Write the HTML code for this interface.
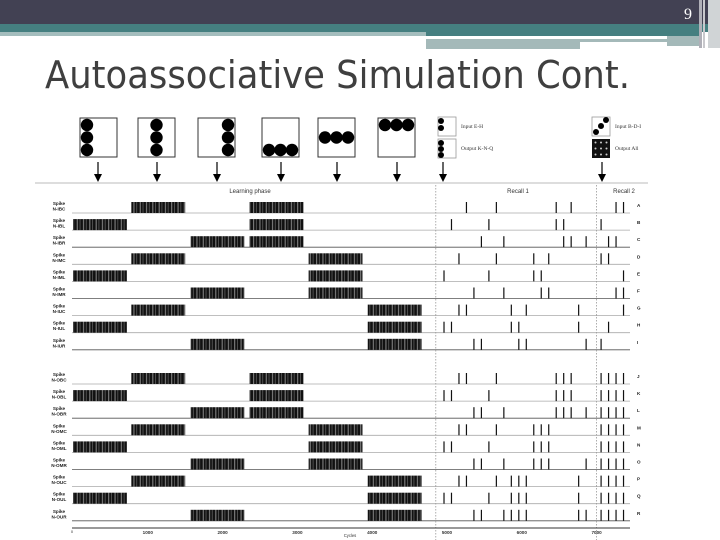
<!DOCTYPE html>
<html><head><meta charset="utf-8"><style>
html,body{margin:0;padding:0;background:#fff;width:720px;height:540px;overflow:hidden}
svg{display:block}
</style></head><body>
<svg id="chart" width="720" height="540" viewBox="0 0 720 540" xmlns="http://www.w3.org/2000/svg" font-family="Liberation Sans, sans-serif">
<defs>
<pattern id="stripes" width="6.3" height="20" patternUnits="userSpaceOnUse">
<rect width="6.3" height="20" fill="#111"/>
<rect x="1.2" width="0.9" height="20" fill="#999"/>
<rect x="4.1" width="0.6" height="20" fill="#777"/>
</pattern>
</defs>
<g>
<rect x="0" y="0" width="720" height="24" fill="#424153"/>
<rect x="0" y="24" width="720" height="8" fill="#457f80"/>
<rect x="0" y="32" width="426" height="4" fill="#a4bdbd"/>
<rect x="426" y="32" width="276" height="4" fill="#457f80"/>
<rect x="426" y="39" width="241" height="3" fill="#a4b9b9"/>
<rect x="426" y="42" width="154" height="7" fill="#a4b9b9"/>
<rect x="667" y="36" width="33" height="10" fill="#a4b9b9"/>
<rect x="699" y="0" width="3" height="48" fill="#b0b0b8"/>
<rect x="703" y="0" width="2" height="48" fill="#c8c8cc"/>
<rect x="708" y="0" width="12" height="48" fill="#d0d4d6"/>
<text x="692" y="19" font-size="16" fill="#fff" text-anchor="end" font-family="Liberation Serif, serif">9</text>
</g>
<text x="45" y="88" font-size="38" fill="#3f3f3f" textLength="585" lengthAdjust="spacingAndGlyphs" font-family="DejaVu Sans, sans-serif">Autoassociative Simulation Cont.</text>
<g id="icons"></g>
<line x1="35" y1="183" x2="648" y2="183" stroke="#bbb" stroke-width="1"/>
<text x="250" y="193" font-size="6" text-anchor="middle" fill="#333">Learning phase</text>
<text x="518" y="193" font-size="6" text-anchor="middle" fill="#333">Recall 1</text>
<text x="624" y="193" font-size="6" text-anchor="middle" fill="#333">Recall 2</text>
<g id="plot"></g>
</svg>
<script>
// ---- data ----
const rowLetters = ['A','B','C','D','E','F','G','H','I','J','K','L','M','N','O','P','Q','R'];
const rowNeurons = ['N-IBC','N-IBL','N-IBR','N-IMC','N-IML','N-IMR','N-IUC','N-IUL','N-IUR','N-OBC','N-OBL','N-OBR','N-OMC','N-OML','N-OMR','N-OUC','N-OUL','N-OUR'];
const blockStarts = [0, 780, 1570, 2360, 3150, 3940];
const blockLength = 720;
const learningBlocks = [[1,3],[0,3],[2,3],[1,4],[0,4],[2,4],[1,5],[0,5],[2,5],[1,3],[0,3],[2,3],[1,4],[0,4],[2,4],[1,5],[0,5],[2,5]];
const recallSpikes = [
 [5260,5660,6460,6660,7260,7360],
 [5060,5560,6460,6560,7060],
 [5460,5760,6560,6660,6860,7160,7260],
 [5160,5660,6160,6360,7060,7160],
 [4960,5560,6160,6260,7360],
 [5360,5760,6260,6360,7260,7360],
 [5160,5260,5860,6060,6760,7360],
 [4960,5060,5860,5960,6760,7160],
 [5360,5460,5960,6060,6860,7060],
 [5160,5260,5660,6460,6560,6660,7060,7160,7260,7360],
 [4960,5060,5560,6460,6560,6660,7060,7160,7260,7360],
 [5360,5460,5760,6460,6560,6660,6860,7060,7160,7260,7360],
 [5160,5260,5660,6160,6260,6360,7060,7160,7260,7360],
 [4960,5060,5560,6160,6260,6360,7060,7160,7260,7360],
 [5360,5460,5760,6160,6260,6360,6860,7060,7160,7260,7360],
 [5160,5260,5660,5860,5960,6060,6760,7060,7160,7260,7360],
 [4960,5060,5560,5860,5960,6060,6760,7060,7160,7260,7360],
 [5360,5460,5760,5860,5960,6060,6760,6860,7060,7160,7260,7360]
];
const xTicks = [1000,2000,3000,4000,5000,6000,7000];
const phaseDividers = [4850, 7000];

const NS='http://www.w3.org/2000/svg';
function mk(tag, attrs, parent){const e=document.createElementNS(NS,tag);for(const k in attrs)e.setAttribute(k,attrs[k]);parent.appendChild(e);return e;}
const xScale = t => 73 + t*0.0748;
const rowBase = i => i<9 ? 213 + i*17.1 : 384 + (i-9)*17.1;
const plot=document.getElementById('plot');

for(let i=0;i<rowLetters.length;i++){
  const b=rowBase(i);
  const g=mk('g',{},plot);
  
  
  const ln=mk('line',{x1:72,y1:b,x2:630,y2:b,stroke:(i%3===2)?'#555':'#aaa','stroke-width':0.8},g);
  
  
  const t1=mk('text',{x:59,y:b-8,'font-size':4.6,'text-anchor':'middle',fill:'#222','font-weight':'bold'},g);
  t1.textContent='Spike';
  
  
  const t2=mk('text',{x:59,y:b-2.5,'font-size':4.6,'text-anchor':'middle',fill:'#222','font-weight':'bold'},g);
  t2.textContent=rowNeurons[i];
  
  
  const t3=mk('text',{x:637,y:b-6,'font-size':4.6,fill:'#222','font-weight':'bold'},g);
  t3.textContent=rowLetters[i];
  
  
  for(const bi of learningBlocks[i]){
    const x0=xScale(blockStarts[bi]), x1=xScale(blockStarts[bi]+blockLength);
    const r=mk('rect',{x:x0,y:b-11,width:x1-x0,height:11,fill:'url(#stripes)'},g);
    
    
  }
  for(const t of recallSpikes[i]){
    const x=xScale(t);
    const s=mk('line',{x1:x,y1:b-11,x2:x,y2:b,stroke:'#111','stroke-width':1.2},g);
    
    
  }
}
for(const d of phaseDividers){
  const x=xScale(d);
  const l=mk('line',{x1:x,y1:185,x2:x,y2:540,stroke:'#999','stroke-width':0.8,'stroke-dasharray':'1.5,1.5'},plot);
  
  
}
const ax=mk('line',{x1:72,y1:528,x2:630,y2:528,stroke:'#333','stroke-width':1},plot);


const z=mk('text',{x:72,y:533,'font-size':4,'text-anchor':'middle',fill:'#333'},plot);
z.textContent='0';


for(const v of xTicks){
  const tl=mk('text',{x:xScale(v),y:534,'font-size':4.6,'text-anchor':'middle',fill:'#333','font-weight':'bold'},plot);
  tl.textContent=v;
  
  
}
const xt=mk('text',{x:350,y:537,'font-size':4.2,'text-anchor':'middle',fill:'#333'},plot);
xt.textContent='Cycles';



// ---- icons ----
const icons=document.getElementById('icons');
const bigBoxes=[[80,'L'],[138,'C'],[198,'R'],[262,'B'],[318,'M'],[378,'T']];
for(const [bx,kind] of bigBoxes){
  const g=mk('g',{},icons);
  
  
  mk('rect',{x:bx,y:118,width:37,height:39,fill:'#fff',stroke:'#333','stroke-width':1},g);
  let pts=[];
  const cx=[bx+7,bx+18.5,bx+30], cy=[125,137.5,150];
  if(kind==='L')pts=cy.map(y=>[cx[0],y]);
  if(kind==='C')pts=cy.map(y=>[cx[1],y]);
  if(kind==='R')pts=cy.map(y=>[cx[2],y]);
  if(kind==='B')pts=cx.map(x=>[x,cy[2]]);
  if(kind==='M')pts=cx.map(x=>[x,cy[1]]);
  if(kind==='T')pts=cx.map(x=>[x,cy[0]]);
  for(const [x,y] of pts) mk('circle',{cx:x,cy:y,r:6.2,fill:'#000'},g);
}
const smallBoxes=[[438,117,[[441,121],[441,128]],'Input E-H'],[438,139,[[441,143],[441,149],[441,155]],'Output K-N-Q'],[592,117,[[596,132],[601,126],[606,120]],'Input B-D-I']];
for(const [bx,by,pts,label] of smallBoxes){
  const g=mk('g',{},icons);
  
  
  mk('rect',{x:bx,y:by,width:18,height:19,fill:'#fff',stroke:'#999','stroke-width':0.8},g);
  for(const [x,y] of pts) mk('circle',{cx:x,cy:y,r:3,fill:'#000'},g);
  const t=mk('text',{x:bx+23,y:by+11,'font-size':5.5,fill:'#333','font-family':'Liberation Serif, serif'},g);
  t.textContent=label;
}
{
  const g=mk('g',{},icons);
  
  
  mk('rect',{x:592,y:139,width:18,height:19,fill:'#111'},g);
  for(let r=0;r<3;r++)for(let c=0;c<3;c++)mk('circle',{cx:595.5+c*5.5,cy:142.5+r*6,r:1,fill:'#ccc'},g);
  const t=mk('text',{x:615,y:150,'font-size':5.5,fill:'#333','font-family':'Liberation Serif, serif'},g);
  t.textContent='Output All';
}
const arrowsX=[98,157,217,281,337,397,443,602];
for(const x of arrowsX){
  const g=mk('g',{},icons);
  
  
  mk('line',{x1:x,y1:162,x2:x,y2:177,stroke:'#000','stroke-width':1.2},g);
  mk('polygon',{points:`${x-4},174 ${x+4},174 ${x},182`,fill:'#000'},g);
}
</script>
</body></html>
